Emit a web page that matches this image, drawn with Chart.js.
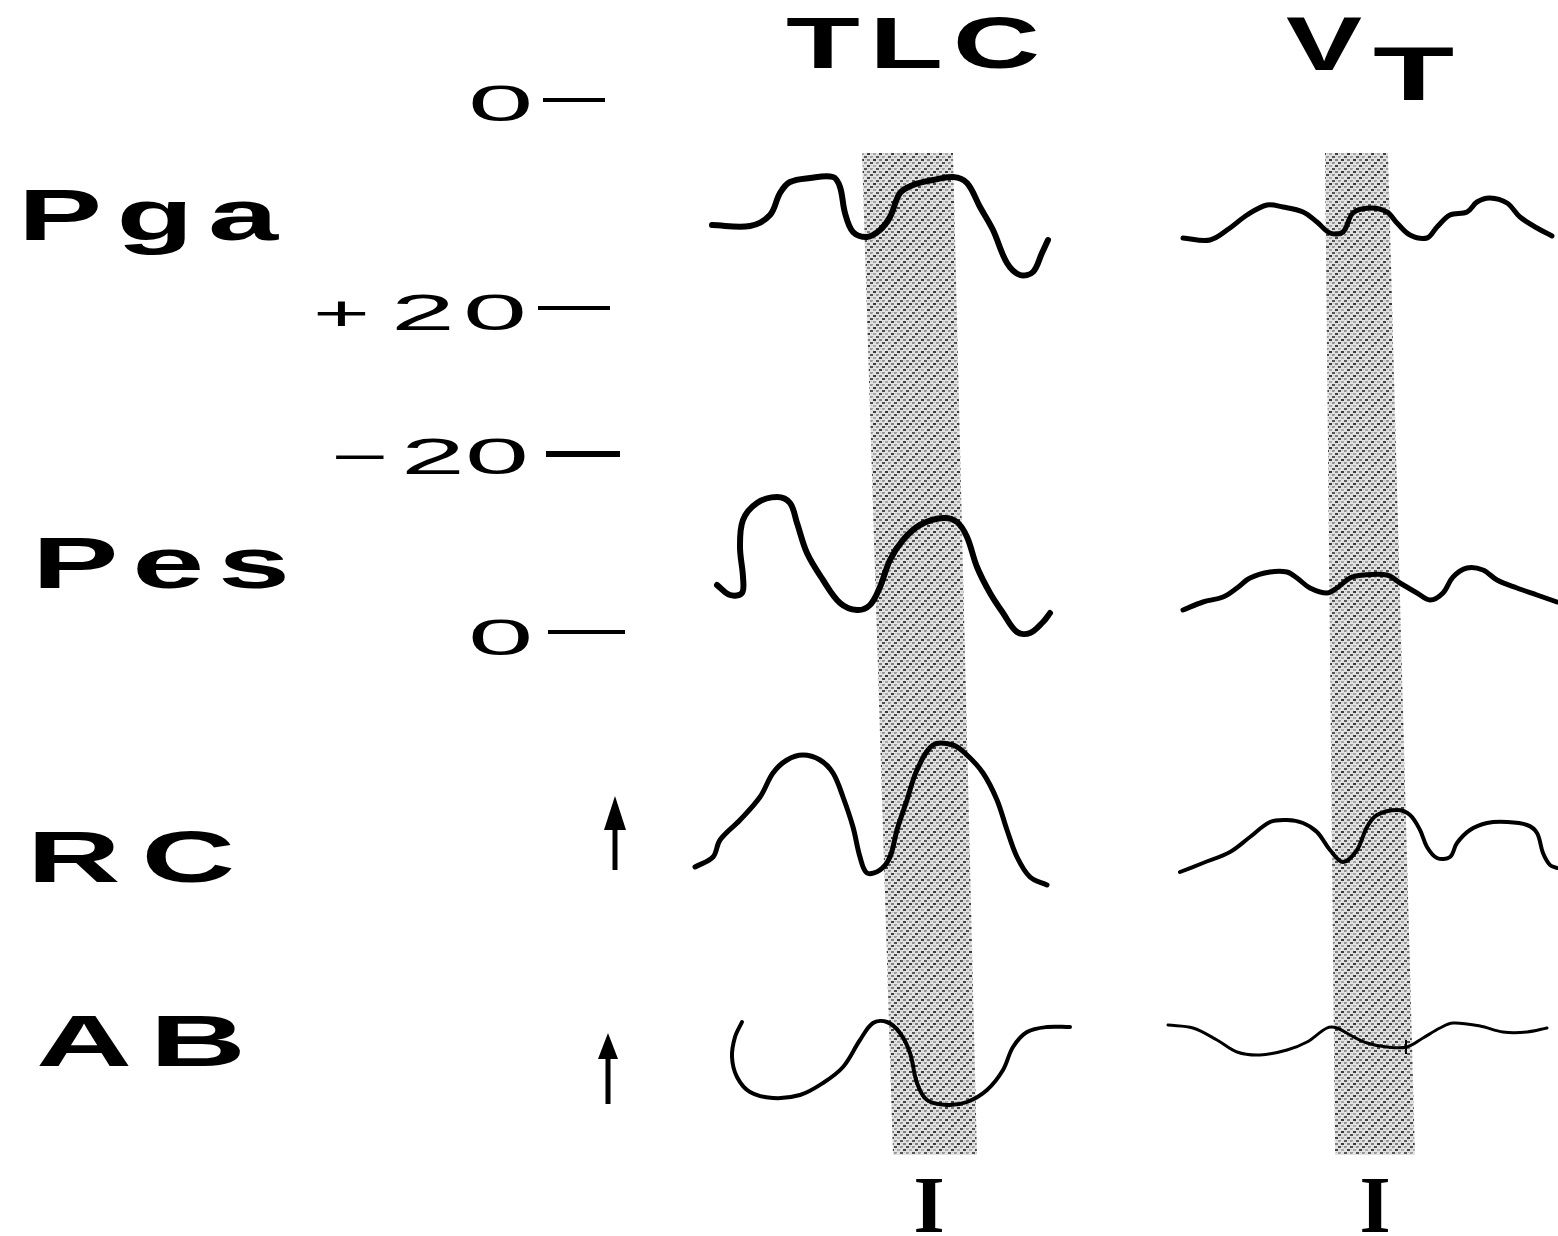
<!DOCTYPE html>
<html>
<head>
<meta charset="utf-8">
<script src="https://cdn.jsdelivr.net/npm/chart.js@4.4.1/dist/chart.umd.min.js"></script>
<style>
  html, body { margin: 0; padding: 0; background: #ffffff; }
  #wrap { width: 1558px; height: 1236px; position: relative; }
</style>
</head>
<body>
<div id="wrap"><canvas id="c"></canvas></div>
<script>
// ---------- DATA (figure units: time -> x, deflection -> y) ----------
const rowLabels = ['Pga', 'Pes', 'RC', 'AB'];
const colLabels = ['TLC', 'V', 'T'];
const pressureTicks = ['0', '+20', '\u221220', '0'];
const inspMarker = 'I';

// shaded inspiratory windows (time window, slanted across rows)
const tlcWindow = [[862,153],[953,153],[977,1155],[893,1155]];
const vtWindow  = [[1325,153],[1388,153],[1415,1155],[1335,1155]];

// Pga traces
const pgaTLC = [[712,225],[750,226],[770,215],[780,193],[790,182],[810,178],[833,177],[840,187],[845,213],[853,232],[867,237],[880,230],[890,217],[900,193],[913,185],[933,180],[953,177],[967,183],[980,207],[993,230],[1007,263],[1020,275],[1033,272],[1042,253],[1048,240]];
const pgaVT = [[1183,238],[1210,240],[1230,228],[1247,215],[1267,205],[1283,207],[1303,212],[1317,222],[1330,233],[1343,232],[1353,213],[1370,208],[1387,212],[1397,223],[1410,235],[1427,238],[1437,227],[1450,215],[1467,212],[1477,202],[1490,198],[1507,203],[1520,217],[1537,228],[1552,236]];

// Pes traces
const pesTLC = [[717,585],[730,595],[742,593],[743,577],[740,547],[743,520],[757,503],[777,497],[790,503],[797,523],[807,553],[823,580],[840,603],[857,610],[870,605],[880,587],[890,560],[903,540],[920,525],[943,518],[957,522],[967,537],[977,567],[990,593],[1003,613],[1017,632],[1030,633],[1043,622],[1050,613]];
const pesVT = [[1183,610],[1203,602],[1223,597],[1237,588],[1250,578],[1270,572],[1287,572],[1297,578],[1310,588],[1327,593],[1337,588],[1350,578],[1363,575],[1387,575],[1400,583],[1417,593],[1430,600],[1443,593],[1453,577],[1467,568],[1483,570],[1497,580],[1517,588],[1537,595],[1557,602]];

// RC traces
const rcTLC = [[695,867],[713,857],[720,840],[740,820],[760,797],[773,773],[787,760],[803,755],[820,760],[833,773],[843,797],[853,827],[860,857],[867,873],[880,870],[890,857],[897,830],[907,800],[917,770],[933,745],[953,745],[967,755],[983,773],[997,800],[1007,830],[1017,857],[1030,877],[1047,885]];
const rcVT = [[1180,872],[1203,863],[1230,852],[1250,837],[1270,822],[1287,820],[1303,823],[1317,832],[1330,850],[1343,862],[1357,850],[1367,827],[1377,815],[1397,810],[1410,815],[1420,830],[1427,847],[1437,858],[1450,857],[1457,843],[1470,830],[1487,823],[1507,822],[1527,825],[1537,833],[1543,853],[1550,865],[1557,868]];

// AB traces
const abTLC = [[742,1022],[735,1037],[732,1057],[737,1077],[750,1092],[773,1098],[800,1095],[823,1083],[843,1067],[860,1040],[873,1023],[887,1022],[900,1033],[910,1053],[917,1083],[927,1100],[947,1105],[967,1102],[987,1090],[1003,1070],[1013,1047],[1027,1032],[1047,1027],[1070,1027]];
const abVT = [[1168,1025],[1193,1028],[1217,1040],[1237,1052],[1260,1055],[1287,1050],[1307,1042],[1327,1028],[1337,1028],[1350,1035],[1367,1043],[1387,1047],[1407,1047],[1423,1038],[1440,1028],[1453,1023],[1480,1026],[1503,1032],[1527,1032],[1547,1028]];

// ---------- helpers ----------
const toPts = arr => arr.map(p => ({x: p[0], y: p[1]}));

function stipple() {
  const c = document.createElement('canvas');
  c.width = 12; c.height = 12;
  const g = c.getContext('2d');
  g.fillStyle = '#e2e2e2'; g.fillRect(0, 0, 12, 12);
  const dots = [
    [0,0,'#555555'],[6,0,'#9a9a9a'],
    [3,3,'#808080'],[9,3,'#3a3a3a'],
    [0,6,'#949494'],[6,6,'#4e4e4e'],
    [3,9,'#404040'],[9,9,'#a8a8a8']
  ];
  dots.forEach(d => { g.fillStyle = d[2]; g.fillRect(d[0], d[1], 3, 2); });
  g.fillStyle = '#c0c0c0';
  [[1,3],[7,9],[10,6],[4,0],[2,7],[8,1]].forEach(d => g.fillRect(d[0], d[1], 1, 1));
  return g.createPattern(c, 'repeat');
}
const pat = stipple();

function trace(arr, w) {
  return { data: toPts(arr), borderColor: '#000', borderWidth: w, tension: 0.35,
           fill: false, pointRadius: 0, borderCapStyle: 'round', borderJoinStyle: 'round', order: 1 };
}
function band(arr) {
  return { data: toPts(arr.concat([arr[0]])), borderColor: 'rgba(0,0,0,0)', borderWidth: 0,
           backgroundColor: pat, fill: 'shape', tension: 0, pointRadius: 0, order: 5 };
}

// ---------- annotation plugin (texts, tick dashes, arrows) ----------
const annotations = {
  id: 'annotations',
  afterDatasetsDraw(chart) {
    const ctx = chart.ctx;
    const X = v => chart.scales.x.getPixelForValue(v);
    const Y = v => chart.scales.y.getPixelForValue(v);

    function stretched(str, left, right, base, font, sx) {
      ctx.save();
      ctx.font = font;
      ctx.letterSpacing = '0px';
      const w0 = ctx.measureText(str).width;
      const n = [...str].length;
      const target = (X(right) - X(left)) / sx;
      const sp = n > 1 ? (target - w0) / (n - 1) : 0;
      ctx.translate(X(left), Y(base));
      ctx.scale(sx, 1);
      ctx.letterSpacing = sp + 'px';
      ctx.fillStyle = '#000';
      ctx.textAlign = 'left';
      ctx.textBaseline = 'alphabetic';
      ctx.fillText(str, 0, 0);
      ctx.restore();
    }
    const bold = s => 'bold ' + s + 'px "Liberation Sans", Arial, sans-serif';
    const reg = s => s + 'px "Liberation Sans", Arial, sans-serif';

    // row labels
    stretched(rowLabels[0], 18, 278, 240, bold(72), 1.75);
    stretched(rowLabels[1], 32, 290, 588, bold(72), 1.8);
    stretched(rowLabels[2], 27, 235, 882, bold(72), 1.8);
    stretched(rowLabels[3], 36, 246, 1066, bold(72), 1.85);

    // column headers
    stretched(colLabels[0], 786, 1040, 68, bold(72), 1.68);
    stretched(colLabels[1], 1286, 1362, 70, bold(76), 1.5);
    stretched(colLabels[2], 1373, 1455, 100, bold(76), 1.75);

    // pressure scale labels
    stretched(pressureTicks[0], 468, 534, 121, reg(50), 2.35);
    stretched('+', 313, 372, 330, reg(50), 1.95);
    stretched('20', 391, 527, 330, reg(50), 2.3);
    stretched('\u2212', 331, 387, 474, reg(50), 1.95);
    stretched('20', 401, 529, 474, reg(50), 2.3);
    stretched(pressureTicks[3], 468, 534, 655, reg(50), 2.35);

    // tick dashes
    ctx.save();
    ctx.strokeStyle = '#000';
    ctx.lineCap = 'butt';
    [[543,605,100,4],[538,610,308,4],[546,620,454,6],[548,625,632,4]].forEach(d => {
      ctx.lineWidth = d[3];
      ctx.beginPath(); ctx.moveTo(X(d[0]), Y(d[2])); ctx.lineTo(X(d[1]), Y(d[2])); ctx.stroke();
    });
    ctx.restore();

    // arrows
    function arrow(x, y0, y1, hw, hl) {
      ctx.save();
      ctx.strokeStyle = '#000'; ctx.fillStyle = '#000'; ctx.lineWidth = 5;
      ctx.beginPath(); ctx.moveTo(X(x), Y(y0)); ctx.lineTo(X(x), Y(y1 + hl - 4)); ctx.stroke();
      ctx.beginPath();
      ctx.moveTo(X(x), Y(y1));
      ctx.lineTo(X(x - hw), Y(y1 + hl));
      ctx.lineTo(X(x + hw), Y(y1 + hl));
      ctx.closePath(); ctx.fill();
      ctx.restore();
    }
    arrow(615, 870, 796, 11, 34);
    arrow(608, 1104, 1033, 10, 26);

    // inspiration markers
    ctx.save();
    ctx.fillStyle = '#000';
    ctx.font = 'bold 80px "Liberation Serif", "Times New Roman", serif';
    ctx.textAlign = 'center';
    ctx.textBaseline = 'alphabetic';
    ctx.fillText(inspMarker, X(929), Y(1232));
    ctx.fillText(inspMarker, X(1375), Y(1232));
    ctx.restore();

    // small tick on VT AB trace
    ctx.save();
    ctx.strokeStyle = '#000'; ctx.lineWidth = 2;
    ctx.beginPath(); ctx.moveTo(X(1406), Y(1040)); ctx.lineTo(X(1406), Y(1054)); ctx.stroke();
    ctx.restore();
  }
};

new Chart(document.getElementById('c'), {
  type: 'line',
  data: {
    datasets: [
      trace(pgaTLC, 6), trace(pgaVT, 5),
      trace(pesTLC, 6), trace(pesVT, 5),
      trace(rcTLC, 5), trace(rcVT, 4),
      trace(abTLC, 4), trace(abVT, 3),
      band(tlcWindow), band(vtWindow)
    ]
  },
  options: {
    animation: false,
    responsive: true,
    maintainAspectRatio: false,
    layout: { padding: 0 },
    events: [],
    plugins: { legend: { display: false }, tooltip: { enabled: false }, title: { display: false } },
    scales: {
      x: { type: 'linear', min: 0, max: 1558, display: false },
      y: { type: 'linear', min: 0, max: 1236, reverse: true, display: false }
    }
  },
  plugins: [annotations]
});
</script>
</body>
</html>
